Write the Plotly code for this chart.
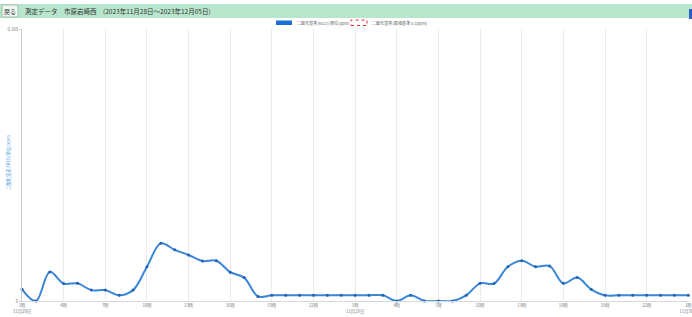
import plotly.graph_objects as go
import pandas as pd

# ---- data ----
start_time = "2023-11-28 01:00"
hours_count = 49
no2_ppm = [
    0.0043, 0.0000, 0.0107, 0.0064, 0.0065, 0.0040, 0.0040, 0.0021, 0.0040, 0.0126,
    0.0212, 0.0188, 0.0169, 0.0147, 0.0148, 0.0106, 0.0086, 0.0017, 0.0021, 0.0021,
    0.0021, 0.0021, 0.0021, 0.0021, 0.0021, 0.0021, 0.0021, 0.0000, 0.0021, 0.0000,
    0.0000, 0.0000, 0.0021, 0.0065, 0.0064, 0.0126, 0.0148, 0.0126, 0.0129, 0.0065,
    0.0086, 0.0043, 0.0021, 0.0021, 0.0021, 0.0021, 0.0021, 0.0021, 0.0021,
]
tick_labels = ["1時<br>11月28日", "4時", "7時", "10時", "13時", "16時", "19時", "22時",
               "1時<br>11月29日", "4時", "7時", "10時", "13時", "16時", "19時", "22時",
               "1時<br>11月30日"]
y_tick_vals = [0, 0.1]
y_tick_text = ["0", "0.100"]
series_name = "二酸化窒素(NO2)(単位:ppm)"
standard_name = "二酸化窒素(環境基準 0.1ppm)"
title_text = "測定データ　市原岩崎西　(2023年11月28日～2023年12月05日)"
back_text = "戻る"

times = pd.date_range(start_time, periods=hours_count, freq="h")
tick_times = times[::3]

W, H = 692, 317
L, R, T, B = 22, 3, 29, 16
PW, PH = W - L - R, H - T - B
FONT = "Noto Sans CJK JP"

def px(x):
    return (x - L) / PW

def py(y):
    return (H - B - y) / PH

fig = go.Figure()
fig.add_trace(go.Scatter(
    x=times, y=no2_ppm, mode="lines+markers",
    line=dict(color="#3a86d8", width=2, shape="spline", smoothing=1.0),
    marker=dict(size=3, color="#2563b0"),
    showlegend=False, hoverinfo="x+y", cliponaxis=False,
))

shapes = [
    dict(type="rect", xref="paper", yref="paper", x0=px(0), x1=px(692), y0=py(18), y1=py(4),
         fillcolor="#b8e6cd", line=dict(width=0), layer="above"),
    dict(type="rect", xref="paper", yref="paper", x0=px(2), x1=px(18), y0=py(17), y1=py(5),
         fillcolor="#eef7f1", line=dict(width=0.8, color="#8fb89f"), layer="above"),
    dict(type="rect", xref="paper", yref="paper", x0=px(689), x1=px(692), y0=py(19), y1=py(9),
         fillcolor="#2a5fc0", line=dict(width=0), layer="above"),
    dict(type="rect", xref="paper", yref="paper", x0=px(276), x1=px(292), y0=py(25), y1=py(20.5),
         fillcolor="#1a6fd6", line=dict(width=0), layer="above"),
    dict(type="rect", xref="paper", yref="paper", x0=px(351), x1=px(367), y0=py(25.5), y1=py(20),
         fillcolor="white", line=dict(width=1, color="#e03030", dash="dot"), layer="above"),
]

annotations = [
    dict(text=back_text, xref="paper", yref="paper", x=px(10), y=py(11), showarrow=False,
         font=dict(family=FONT, size=6, color="#333"), xanchor="center", yanchor="middle"),
    dict(text=title_text, xref="paper", yref="paper", x=px(23), y=py(11), showarrow=False,
         font=dict(family=FONT, size=6.5, color="#333"), xanchor="left", yanchor="middle"),
    dict(text=series_name, xref="paper", yref="paper", x=px(295), y=py(23), showarrow=False,
         font=dict(family=FONT, size=4.1, color="#666"), xanchor="left", yanchor="middle"),
    dict(text=standard_name, xref="paper", yref="paper", x=px(370), y=py(23), showarrow=False,
         font=dict(family=FONT, size=4.1, color="#666"), xanchor="left", yanchor="middle"),
    dict(text=series_name, xref="paper", yref="paper", x=px(8), y=py(162), showarrow=False,
         textangle=-90, font=dict(family=FONT, size=4.3, color="#5aa4e6"),
         xanchor="center", yanchor="middle"),
]

fig.update_layout(
    width=W, height=H,
    margin=dict(l=L, r=R, t=T, b=B, pad=0, autoexpand=False),
    paper_bgcolor="white", plot_bgcolor="white",
    font=dict(family=FONT, size=5, color="#777"),
    shapes=shapes, annotations=annotations,
    showlegend=False,
    xaxis=dict(
        range=[times[0], times[-1] + pd.Timedelta(minutes=3)],
        tickmode="array", tickvals=tick_times, ticktext=tick_labels,
        showgrid=True, gridcolor="#ececec", gridwidth=1,
        showline=True, linecolor="#d8d8d8", linewidth=1, zeroline=False,
        tickfont=dict(family=FONT, size=4.3, color="#777"), ticks="", ticklen=0,
        ticklabeloverflow="allow", automargin=False,
    ),
    yaxis=dict(
        range=[0, 0.1], tickmode="array", tickvals=y_tick_vals, ticktext=y_tick_text,
        showgrid=True, gridcolor="#e6e6e6", showline=True, linecolor="#c8c8c8", linewidth=1,
        zeroline=False, tickfont=dict(family=FONT, size=4.3, color="#777"),
        ticks="outside", ticklen=2, tickcolor="#d0d0d0", automargin=False,
    ),
)

fig.write_html("out.html", config={"displayModeBar": False},
               post_script="document.body.style.margin='0';document.body.style.overflow='hidden';")
